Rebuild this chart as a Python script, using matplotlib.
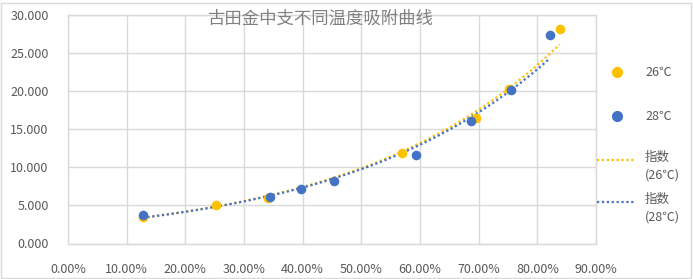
import numpy as np
import matplotlib
matplotlib.use("Agg")
import matplotlib.pyplot as plt
from matplotlib.lines import Line2D
from matplotlib.ticker import FuncFormatter, MultipleLocator

plt.rcParams['font.family'] = ['Noto Sans CJK SC', 'DejaVu Sans']

title = "古田金中支不同温度吸附曲线"
x26 = [0.127, 0.253, 0.341, 0.570, 0.695, 0.752, 0.838]
y26 = [3.5, 5.0, 5.9, 11.8, 16.4, 20.2, 28.1]
x28 = [0.127, 0.345, 0.397, 0.453, 0.593, 0.687, 0.755, 0.821]
y28 = [3.7, 6.05, 7.1, 8.2, 11.6, 16.1, 20.1, 27.3]
series_labels = ["26℃", "28℃"]
trend_labels = ["指数\n(26℃)", "指数\n(28℃)"]
colors = ["#FFC000", "#4472C4"]

fig = plt.figure(figsize=(6.93, 2.79), dpi=100)
ax = fig.add_axes([68/693, 1-243.5/279, (596-68)/693, (243.5-14.5)/279])

gray_txt = "#595959"
grid_c = "#D9D9D9"

# exponential trendlines (Excel-style fit on log y)
for xs, ys, c in [(x26, y26, colors[0]), (x28, y28, colors[1])]:
    xs = np.array(xs); ys = np.array(ys)
    b, a = np.polyfit(xs, np.log(ys), 1)
    xx = np.linspace(xs.min(), xs.max(), 200)
    ax.plot(xx, np.exp(a) * np.exp(b * xx), color=c, lw=1.6,
            linestyle=(0, (1, 1.2)), zorder=3)

ax.scatter(x26, y26, s=48, color=colors[0], zorder=4, linewidths=0)
ax.scatter(x28, y28, s=48, color=colors[1], zorder=4, linewidths=0)

ax.set_xlim(0, 0.9)
ax.set_ylim(0, 30)
ax.xaxis.set_major_locator(MultipleLocator(0.1))
ax.yaxis.set_major_locator(MultipleLocator(5))
ax.xaxis.set_major_formatter(FuncFormatter(lambda v, p: f"{v*100:.2f}%"))
ax.yaxis.set_major_formatter(FuncFormatter(lambda v, p: f"{v:.3f}"))
ax.grid(True, color=grid_c, lw=1)
ax.set_axisbelow(True)
for s in ax.spines.values():
    s.set_color(grid_c)
    s.set_linewidth(1)
ax.tick_params(length=0, labelsize=9, colors=gray_txt, pad=6)
ax.tick_params(axis='x', pad=14)
ax.tick_params(axis='y', pad=14)

fig.text(320/693, 1-19/279, title, ha='center', va='center', fontsize=12.5,
         color="#808080")

# legend (manual)
fig.add_artist(Line2D([617/693], [1-72/279], marker='o', ms=7, color=colors[0],
                      lw=0, transform=fig.transFigure))
fig.add_artist(Line2D([617/693], [1-116/279], marker='o', ms=7, color=colors[1],
                      lw=0, transform=fig.transFigure))
fig.text(645/693, 1-72/279, series_labels[0], va='center', fontsize=9, color=gray_txt)
fig.text(645/693, 1-116/279, series_labels[1], va='center', fontsize=9, color=gray_txt)
for yy, c, lab in [(160, colors[0], trend_labels[0]), (202, colors[1], trend_labels[1])]:
    fig.add_artist(Line2D([597/693, 636/693], [1-yy/279, 1-yy/279], color=c, lw=1.6,
                          linestyle=(0, (1, 1.2)), transform=fig.transFigure))
    fig.text(645/693, 1-(yy-9)/279, lab, va='top', fontsize=9, color=gray_txt,
             linespacing=1.45)

fig.add_artist(plt.Rectangle((1/693, 1/279), 690/693, 275/279, fill=False,
                             edgecolor=grid_c, lw=1, transform=fig.transFigure))

fig.savefig("out.png", dpi=100)
